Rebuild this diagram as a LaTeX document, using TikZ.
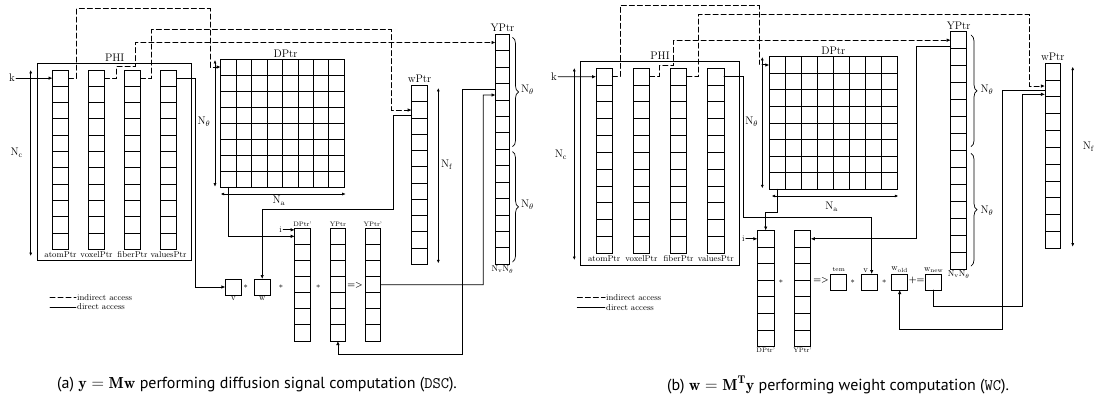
\documentclass[tikz,border=0pt]{standalone}
\usepackage{amsmath}
\usepackage{fontspec}
\newfontfamily\capfont{PT Sans}
\usetikzlibrary{positioning, calc, arrows.meta, decorations.pathreplacing}
\tikzset{
  cell/.style={draw, line width=0.9pt, inner sep=0pt, outer sep=0pt},
  lbl/.style={font=\fontsize{11}{13}\selectfont, inner sep=1pt},
  nm/.style={font=\fontsize{8.5}{10}\selectfont, inner sep=1pt},
  tny/.style={font=\fontsize{6.5}{8}\selectfont, inner sep=1pt},
  indline/.style={dash pattern=on 5pt off 3pt, line width=1pt},
  dirline/.style={line width=0.7pt},
  indacc/.style={indline, -{Latex[length=4pt,width=3.5pt]}},
  diracc/.style={dirline, -{Latex[length=4pt,width=3.5pt]}},
  dimarr/.style={line width=0.6pt, {Latex[length=3.5pt,width=3pt]}-{Latex[length=3.5pt,width=3pt]}},
  capnode/.style={font=\capfont\fontsize{16}{18}\selectfont, inner sep=0pt},
}
\begin{document}
\begin{tikzpicture}[x=1pt, y=-1pt, line cap=round]
\useasboundingbox (0,0) rectangle (1099,401);
% ================= (a) y = Mw =================
% ---- PHI arrays ----
\node[draw, line width=0.8pt, minimum width=154pt, minimum height=197.4pt, inner sep=0pt] (phiA) at (114.7,162) {};
\node[lbl, above=0.5pt of phiA] (phiAl) {PHI};
\foreach \nm/\x in {atomA/60.5, voxelA/96.5, fiberA/132.5, valuesA/168.5}
  \foreach \i in {1,...,11}
    \node[cell, minimum width=16pt, minimum height=16.3pt] (\nm-\i) at (\x, {70+16.3*(\i-0.5)}) {};
\foreach \nm/\t in {atomA/atomPtr, voxelA/voxelPtr, fiberA/fiberPtr, valuesA/valuesPtr}
  \node[nm, below=1pt of \nm-11, text height=6pt, text depth=1.5pt] (\nm-l) {\t};
% ---- DPtr matrix ----
\foreach \r in {1,...,8}
  \foreach \c in {1,...,8}
    \node[cell, minimum width=15.45pt, minimum height=16.04pt] (DA-\r-\c) at ({220.7+15.45*(\c-0.5)}, {59+16.04*(\r-0.5)}) {};
\node[lbl, above=0.5pt of DA-1-4.north east, xshift=3pt] (DAl) {DPtr};
% ---- wPtr and YPtr ----
\foreach \i in {1,...,11}
  \node[cell, minimum width=15.6pt, minimum height=16.24pt] (wA-\i) at (419.5, {85.7+16.24*(\i-0.5)}) {};
\node[lbl, above=1.5pt of wA-1] (wAl) {wPtr};
\foreach \i in {1,...,14}
  \node[cell, minimum width=14pt, minimum height=16.43pt] (YA-\i) at (502.5, {34.3+16.43*(\i-0.5)}) {};
\node[lbl, above=1pt of YA-1] (YAl) {YPtr};
\node[nm, below=0.5pt of YA-14] (YAn) {$\mathrm{N_vN_\theta}$};
\draw[line width=0.7pt, decorate, decoration={brace, amplitude=6pt}] (512.5,37.3) -- (512.5,146.7);
\draw[line width=0.7pt, decorate, decoration={brace, amplitude=6pt}] (512.5,151.7) -- (512.5,262);
\node[lbl] (YAb1) at (527.5,90) {$\mathrm{N_\theta}$};
\node[lbl] (YAb2) at (527.5,205) {$\mathrm{N_\theta}$};
% ---- operation row ----
\node[cell, minimum size=16pt] (vbA) at (233.4,287) {};
\node[cell, minimum size=16pt] (wbA) at (262.2,287) {};
\node[nm, below=1pt of vbA] (vbAl) {v};
\node[nm, below=1pt of wbA] (wbAl) {w};
\foreach \nm/\x in {dpA/302.5, yoA/337.9, ypA/372.9}
  \foreach \i in {1,...,7}
    \node[cell, minimum width=15.6pt, minimum height=16.1pt] (\nm-\i) at (\x, {228.3+16.1*(\i-0.5)}) {};
\node[tny, above=0.5pt of dpA-1] (dpAl) {DPtr'};
\node[tny, above=0.5pt of yoA-1] (yoAl) {YPtr};
\node[tny, above=0.5pt of ypA-1] (ypAl) {YPtr'};
\node[nm] (s1A) at (245.7,287) {$*$};
\node[nm] (s2A) at (281,287) {$*$};
\node[nm] (s3A) at (318.3,287) {$*$};
\node[nm] (eqA) at (355,285) {\textbf{=>}};
% ---- indirect access ----
\draw[indacc] (atomA-1.east) -- ++(8,0) |- (210.3,9) |- (DA-1-1.west);
\draw[indacc] (voxelA-1.east) -- ++(12,0) |- (135,66.7) |- (YA-1.west);
\draw[indacc] (fiberA-1.east) -- ++(11,0) |- (391.7,30) |- (wA-2.west);
% ---- direct access ----
\node[lbl] (kA) at (12,78.15) {k};
\draw[diracc] (kA) -- (atomA-1.west);
\draw[diracc] (valuesA-1.east) -- ++(18.5,0) |- (vbA.west);
\draw[diracc] (DA-8-1.south) |- (dpA-1.west);
\node[nm] (iA) at (280.7,229.8) {i};
\draw[diracc] (iA) -- ($(dpA-1.north west)+(0,1.5)$);
\draw[diracc] ($(wA-2.south west)+(0,-2.5)$) -| (393.3,209.3) -| (wbA.north);
\draw[diracc] ($(YA-4.west)+(0,-2.5)$) -| (462.7,354.3) -| (yoA-7.south);
\draw[diracc] (ypA-4.east) -| (483.3,95) -- ($(YA-4.west)+(0,3.2)$);
% ---- sizes ----
\draw[dimarr] (30.7,70) -- (30.7,256);
\node[lbl] (NcA) at (16.7,153) {$\mathrm{N_c}$};
\draw[dimarr] (215,60) -- (215,186.7);
\node[lbl] (NtA) at (204,121.7) {$\mathrm{N_\theta}$};
\draw[dimarr] (220.7,194) -- (345.7,194);
\node[lbl] (NaA) at (279,201) {$\mathrm{N_a}$};
\draw[dimarr] (438.3,88) -- (438.3,263.3);
\node[lbl] (NfA) at (446.7,165) {$\mathrm{N_f}$};
% ---- legend ----
\node[nm, anchor=west] (indA) at (76,297.3) {indirect access};
\node[nm, anchor=west] (dirA) at (76,307) {direct access};
\draw[indline] (50,297.3) -- (indA.west);
\draw[dirline] (50,307) -- (dirA.west);
\node[capnode] (capA) at (257,385) {(a) $\mathbf{y} = \mathbf{Mw}$ performing diffusion signal computation ({\ttfamily DSC}).};
% ================= (b) w = M^T y =================
% ---- PHI arrays ----
\node[draw, line width=0.8pt, minimum width=158.6pt, minimum height=203.6pt, inner sep=0pt] (phiB) at (660,163.5) {};
\node[lbl, above=0.5pt of phiB] (phiBl) {PHI};
\foreach \nm/\x in {atomB/604.2, voxelB/641.4, fiberB/678.6, valuesB/715.8}
  \foreach \i in {1,...,11}
    \node[cell, minimum width=16.3pt, minimum height=16.82pt] (\nm-\i) at (\x, {68.3+16.82*(\i-0.5)}) {};
\foreach \nm/\t in {atomB/atomPtr, voxelB/voxelPtr, fiberB/fiberPtr, valuesB/valuesPtr}
  \node[nm, below=1pt of \nm-11, text height=6pt, text depth=1.5pt] (\nm-l) {\t};
% ---- DPtr matrix ----
\foreach \r in {1,...,8}
  \foreach \c in {1,...,8}
    \node[cell, minimum width=16pt, minimum height=16.58pt] (DB-\r-\c) at ({769.3+16*(\c-0.5)}, {56.7+16.58*(\r-0.5)}) {};
\node[lbl, above=0.5pt of DB-1-4.north east] (DBl) {DPtr};
% ---- YPtr and wPtr ----
\foreach \i in {1,...,14}
  \node[cell, minimum width=16pt, minimum height=16.97pt] (YB-\i) at (958.7, {31.7+16.97*(\i-0.5)}) {};
\node[lbl, above=1pt of YB-1] (YBl) {YPtr};
\node[nm, below=0.5pt of YB-14] (YBn) {$\mathrm{N_vN_\theta}$};
\draw[line width=0.7pt, decorate, decoration={brace, amplitude=6pt}] (971,35) -- (971,146.7);
\draw[line width=0.7pt, decorate, decoration={brace, amplitude=6pt}] (971,153.3) -- (971,266);
\node[lbl] (YBb1) at (987,90) {$\mathrm{N_\theta}$};
\node[lbl] (YBb2) at (987,211) {$\mathrm{N_\theta}$};
\foreach \i in {1,...,11}
  \node[cell, minimum width=15.7pt, minimum height=16.82pt] (wB-\i) at (1052.8, {63.3+16.82*(\i-0.5)}) {};
\node[lbl, above=1.5pt of wB-1] (wBl) {wPtr};
% ---- operation row ----
\foreach \nm/\x in {dpB/765.7, ypB/802.5}
  \foreach \i in {1,...,7}
    \node[cell, minimum width=16.5pt, minimum height=16.6pt] (\nm-\i) at (\x, {230.5+16.6*(\i-0.5)}) {};
\node[tny, below=0.5pt of dpB-7] (dpBl) {DPtr'};
\node[tny, below=0.5pt of ypB-7] (ypBl) {YPtr'};
\node[cell, minimum size=16pt] (temB) at (838.7,282) {};
\node[cell, minimum size=16pt] (vbB) at (869.7,282) {};
\node[cell, minimum size=16pt] (woldB) at (899.7,282) {};
\node[cell, minimum size=16pt] (wnewB) at (933.7,282) {};
\node[tny, above=1pt of temB] (temBl) {tem};
\node[nm, above=0.5pt of vbB, xshift=-4pt] (vbBl) {v};
\node[nm, above=0.5pt of woldB] (woldBl) {$\mathrm{w_{old}}$};
\node[nm, above=0.5pt of wnewB] (wnewBl) {$\mathrm{w_{new}}$};
\node[nm] (s1B) at (781,282) {$*$};
\node[nm] (eqB) at (821,280.5) {\textbf{=>}};
\node[nm] (s2B) at (852.7,282) {$*$};
\node[nm] (s3B) at (884.3,282) {$*$};
\node[nm] (peB) at (916.7,280.5) {\textbf{+=}};
% ---- indirect access ----
\draw[indacc] (atomB-1.east) -- ++(7.7,0) |- (759,5.7) |- (DB-1-1.west);
\draw[indacc] (voxelB-1.east) -- ++(9.5,0) |- (673.3,66) |- (YB-1.west);
\draw[indacc] (fiberB-1.east) -- ++(11.5,0) |- (1029.3,15) |- ($(wB-2.west)+(0,-2.5)$);
% ---- direct access ----
\node[lbl] (kB) at (554,76.7) {k};
\draw[diracc] (kB) -- (atomB-1.west);
\draw[diracc] (valuesB-1.east) -- ++(19.3,0) |- (871.7,217) -- ($(vbB.north)+(2,0)$);
\draw[diracc] (DB-8-1.south) -- ++(0,23.4) -| (dpB-1.north);
\node[nm] (iB) at (743.3,238.8) {i};
\draw[diracc] (iB) -- (dpB-1.west);
\draw[diracc] ($(YB-1.west)+(0,5.8)$) -| ($(ypB-1.east)+(105.3,0)$) -- (ypB-1.east);
\draw[diracc] ($(wB-2.west)+(0,1.5)$) -| (1002.3,329) -| (woldB.south);
\draw[diracc] (wnewB.south) |- (1022.7,306) |- ($(wB-2.west)+(0,5.8)$);
% ---- sizes ----
\draw[dimarr] (574.3,68) -- (574.3,260);
\node[lbl] (NcB) at (561,155) {$\mathrm{N_c}$};
\draw[dimarr] (762.3,57) -- (762.3,188.3);
\node[lbl] (NtB) at (751.7,121.7) {$\mathrm{N_\theta}$};
\draw[dimarr] (771.7,196) -- (898.3,196);
\node[lbl] (NaB) at (831.7,206.7) {$\mathrm{N_a}$};
\draw[dimarr] (1072.7,66.7) -- (1072.7,246.7);
\node[lbl] (NfB) at (1088.3,146.7) {$\mathrm{N_f}$};
% ---- legend ----
\node[nm, anchor=west] (indB) at (605,297.3) {indirect access};
\node[nm, anchor=west] (dirB) at (605,307.3) {direct access};
\draw[indline] (577.3,297.3) -- (indB.west);
\draw[dirline] (577.3,307.3) -- (dirB.west);
\node[capnode] (capB) at (838,385) {(b) $\mathbf{w} = \mathbf{M}^{\mathbf{T}}\mathbf{y}$ performing weight computation ({\ttfamily WC}).};
\end{tikzpicture}
\end{document}
